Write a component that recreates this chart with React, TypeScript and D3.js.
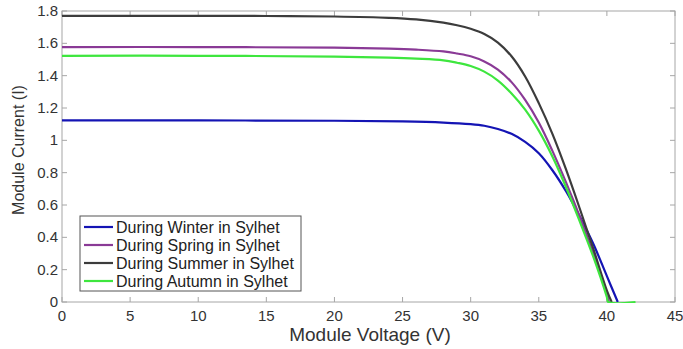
import React from 'react';
import * as d3 from 'd3';

// values
const winterV = [0, 10, 20, 25, 28, 30, 31, 32, 33, 34, 35, 36, 37, 38, 39, 40, 40.8];
const winterI = [1.123, 1.123, 1.121, 1.117, 1.11, 1.1, 1.09, 1.07, 1.04, 0.99, 0.92, 0.815, 0.685, 0.53, 0.36, 0.16, 0];

const springV = [0, 10, 20, 24, 26, 28, 29, 30, 31, 32, 33, 34, 35, 36, 37, 38, 39, 40, 40.15];
const springI = [1.577, 1.577, 1.573, 1.567, 1.561, 1.55, 1.537, 1.52, 1.488, 1.438, 1.36, 1.25, 1.11, 0.935, 0.74, 0.53, 0.3, 0.05, 0];

const summerV = [0, 10, 15, 20, 24, 26, 28, 29, 30, 31, 32, 33, 34, 35, 36, 37, 38, 39, 40, 40.35];
const summerI = [1.77, 1.77, 1.769, 1.766, 1.758, 1.748, 1.728, 1.712, 1.69, 1.658, 1.605, 1.52, 1.395, 1.23, 1.04, 0.82, 0.58, 0.33, 0.07, 0];

const autumnV = [0, 10, 20, 24, 26, 28, 29, 30, 31, 32, 33, 34, 35, 36, 37, 38, 39, 40, 40.1, 42.1];
const autumnI = [1.523, 1.523, 1.518, 1.511, 1.505, 1.495, 1.48, 1.46, 1.425, 1.37, 1.29, 1.19, 1.06, 0.9, 0.71, 0.5, 0.28, 0.03, 0, 0];

const seriesNames = [
  'During Winter in Sylhet',
  'During Spring in Sylhet',
  'During Summer in Sylhet',
  'During Autumn in Sylhet',
];
const seriesColors = ['#1414b4', '#8a3a96', '#3c3c3c', '#3ee63e'];

const xTicks = [0, 5, 10, 15, 20, 25, 30, 35, 40, 45];
const yTicks = [0, 0.2, 0.4, 0.6, 0.8, 1, 1.2, 1.4, 1.6, 1.8];

const W = 683, H = 349;
const margin = { top: 11, right: 8, bottom: 47, left: 62 };

export default function App() {
  const x = d3.scaleLinear().domain([0, 45]).range([margin.left, W - margin.right]);
  const y = d3.scaleLinear().domain([0, 1.8]).range([H - margin.bottom, margin.top]);

  const series = [
    { v: winterV, i: winterI },
    { v: springV, i: springI },
    { v: summerV, i: summerI },
    { v: autumnV, i: autumnI },
  ];

  const line = d3.line<[number, number]>()
    .x(d => x(d[0]))
    .y(d => y(d[1]))
    .curve(d3.curveCatmullRom.alpha(0.5));

  const x0 = x(0), x1 = x(45), y0 = y(0), y1 = y(1.8);
  const axisColor = '#a6a6a6';
  const textColor = '#333';
  const font = 'Liberation Sans, Arial, sans-serif';
  const tick = 5;

  const legX = 80, legY = 216, legW = 221, legH = 75;

  return (
    <svg width={W} height={H} style={{ position: 'absolute', left: 0, top: 0, background: '#fff' }} fontFamily={font}>
      <rect x={0} y={0} width={W} height={H} fill="#fff" />
      <defs>
        <clipPath id="plot">
          <rect x={x0} y={y1 - 2} width={x1 - x0} height={y0 - y1 + 3} />
        </clipPath>
      </defs>

      {/* axis box + inward ticks */}
      <rect x={x0} y={y1} width={x1 - x0} height={y0 - y1} fill="none" stroke={axisColor} strokeWidth={1} />
      {xTicks.map(t => (
        <g key={'xt' + t}>
          <line x1={x(t)} x2={x(t)} y1={y0} y2={y0 - tick} stroke={axisColor} />
          <line x1={x(t)} x2={x(t)} y1={y1} y2={y1 + tick} stroke={axisColor} />
          <text x={x(t)} y={y0 + 19} textAnchor="middle" fontSize={15} fill={textColor}>{t}</text>
        </g>
      ))}
      {yTicks.map(t => (
        <g key={'yt' + t}>
          <line x1={x0} x2={x0 + tick} y1={y(t)} y2={y(t)} stroke={axisColor} />
          <line x1={x1} x2={x1 - tick} y1={y(t)} y2={y(t)} stroke={axisColor} />
          <text x={x0 - 4} y={y(t) + 5} textAnchor="end" fontSize={15} fill={textColor}>{t}</text>
        </g>
      ))}

      <text x={370} y={H - 8} textAnchor="middle" fontSize={19} fill={textColor}>Module Voltage (V)</text>
      <text transform={`translate(24,150) rotate(-90)`} textAnchor="middle" fontSize={16} fill={textColor}>Module Current (I)</text>

      <g clipPath="url(#plot)">
        {series.map((s, k) => (
          <path key={k} d={line(s.v.map((v, j) => [v, s.i[j]] as [number, number])) || ''}
            fill="none" stroke={seriesColors[k]} strokeWidth={2.2} />
        ))}
      </g>

      {/* legend */}
      <rect x={legX} y={legY} width={legW} height={legH} fill="#fff" stroke="#555" strokeWidth={1} />
      {seriesNames.map((n, k) => {
        const ly = legY + 11 + k * 18;
        return (
          <g key={n}>
            <line x1={legX + 4} x2={legX + 33} y1={ly} y2={ly} stroke={seriesColors[k]} strokeWidth={2.2} />
            <text x={legX + 36} y={ly + 5.5} fontSize={16} fill="#222">{n}</text>
          </g>
        );
      })}
    </svg>
  );
}
